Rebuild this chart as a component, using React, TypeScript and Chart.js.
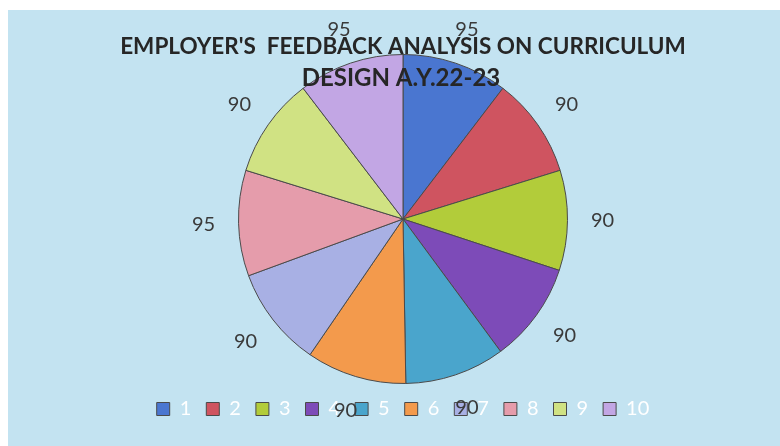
import React, { useEffect, useRef } from "react";
import { Chart, registerables } from "chart.js";

Chart.register(...registerables);

const categories = ["1", "2", "3", "4", "5", "6", "7", "8", "9", "10"];
const scores = [95, 90, 90, 90, 90, 90, 90, 95, 90, 95];
const sliceColors = [
  "#4a76d0",
  "#cf5460",
  "#b2cc3a",
  "#7d4bb8",
  "#4aa5cc",
  "#f39a4c",
  "#a8b0e4",
  "#e59cab",
  "#d0e283",
  "#c2a6e4",
];
const titleLines = ["EMPLOYER'S  FEEDBACK ANALYSIS ON CURRICULUM", "DESIGN A.Y.22-23"];

const FONT = "Lato, 'Open Sans', sans-serif";

const outsideLabels = {
  id: "outsideLabels",
  afterDatasetsDraw(chart: any) {
    const ctx = chart.ctx;
    const meta = chart.getDatasetMeta(0);
    const data = chart.data.datasets[0].data as number[];
    ctx.save();
    ctx.font = `20px ${FONT}`;
    ctx.fillStyle = "#3a3a3a";
    ctx.textAlign = "center";
    ctx.textBaseline = "middle";
    meta.data.forEach((arc: any, i: number) => {
      const p = arc.getProps(["x", "y", "startAngle", "endAngle", "outerRadius"], true);
      const mid = (p.startAngle + p.endAngle) / 2;
      const r = p.outerRadius + 35;
      ctx.fillText(String(data[i]), p.x + Math.cos(mid) * r, p.y + Math.sin(mid) * r);
    });
    ctx.restore();
  },
};

const overlayTitle = {
  id: "overlayTitle",
  afterDraw(chart: any) {
    const ctx = chart.ctx;
    ctx.save();
    ctx.font = `bold 22.5px ${FONT}`;
    ctx.fillStyle = "#262626";
    ctx.textAlign = "center";
    ctx.textBaseline = "middle";
    ctx.fillText(titleLines[0], 395, 37);
    ctx.font = `bold 24px ${FONT}`;
    ctx.fillText(titleLines[1], 393, 68);
    ctx.restore();
  },
};

export default function App() {
  const ref = useRef<HTMLCanvasElement | null>(null);
  useEffect(() => {
    if (!ref.current) return;
    const chart = new Chart(ref.current, {
      type: "pie",
      data: {
        labels: categories,
        datasets: [
          {
            data: scores,
            backgroundColor: sliceColors,
            borderColor: "#4a4a4a",
            borderWidth: 1,
            hoverOffset: 0,
          },
        ],
      },
      options: {
        responsive: true,
        maintainAspectRatio: false,
        animation: false,
        layout: { padding: { top: 44, bottom: 17, left: 18, right: 0 } },
        plugins: {
          title: { display: false },
          tooltip: { enabled: false },
          legend: {
            position: "bottom",
            labels: {
              boxWidth: 13,
              boxHeight: 13,
              color: "#ffffff",
              padding: 15,
              font: { size: 20, family: FONT },
            },
          },
        },
      },
      plugins: [outsideLabels, overlayTitle],
    });
    return () => chart.destroy();
  }, []);
  return (
    <div
      style={{
        position: "fixed",
        left: 8,
        top: 10,
        width: 772,
        height: 436,
        background: "#c3e3f1",
      }}
    >
      <canvas ref={ref} />
    </div>
  );
}
